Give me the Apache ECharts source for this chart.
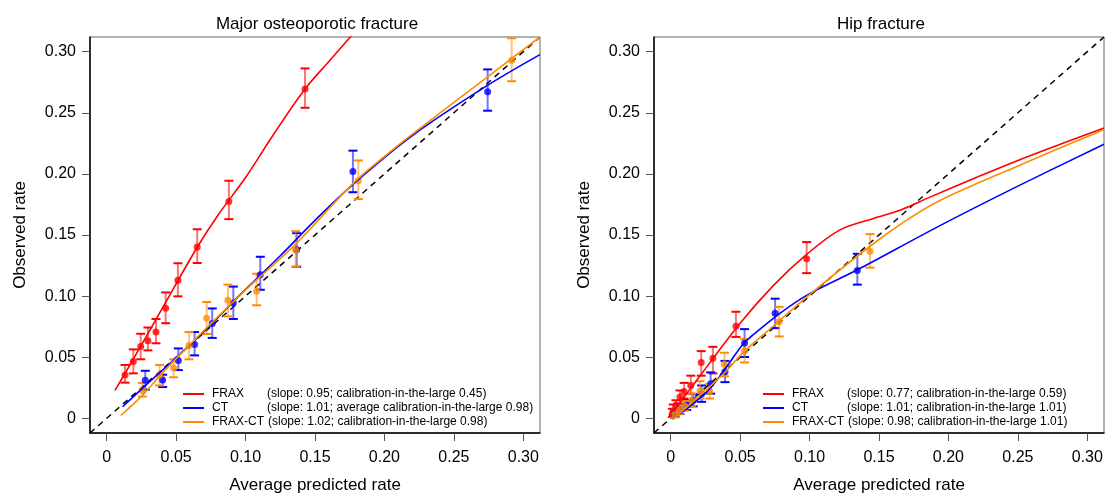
<!DOCTYPE html>
<html><head><meta charset="utf-8">
<script src="https://cdn.jsdelivr.net/npm/echarts@6/dist/echarts.min.js"></script>
<style>html,body{margin:0;padding:0;background:#fff}#c{width:1106px;height:499px}</style>
</head><body><div id="c"></div>
<script>
// ---------- data ----------
const tickValues = [0, 0.05, 0.10, 0.15, 0.20, 0.25, 0.30];
const titles = ['Major osteoporotic fracture', 'Hip fracture'];
const seriesNames = ['FRAX', 'CT', 'FRAX-CT'];
const legendText1 = ['(slope: 0.95; calibration-in-the-large 0.45)', '(slope: 1.01; average calibration-in-the-large 0.98)', '(slope: 1.02; calibration-in-the-large 0.98)'];
const legendText2 = ['(slope: 0.77; calibration-in-the-large 0.59)', '(slope: 1.01; calibration-in-the-large 1.01)', '(slope: 0.98; calibration-in-the-large 1.01)'];

// Major osteoporotic fracture – points
const mofFraxX  = [0.0132, 0.0192, 0.0245, 0.0297, 0.0355, 0.0425, 0.0513, 0.0652, 0.088, 0.1428];
const mofFraxY  = [0.0355, 0.0465, 0.0588, 0.0634, 0.0706, 0.0901, 0.1129, 0.1402, 0.1775, 0.2694];
const mofFraxLo = [0.0292, 0.0368, 0.0483, 0.0556, 0.0614, 0.0778, 0.0998, 0.1271, 0.163, 0.2541];
const mofFraxHi = [0.0437, 0.0564, 0.0692, 0.0743, 0.0813, 0.103, 0.1269, 0.1547, 0.1944, 0.2863];
const mofCtX  = [0.0278, 0.0403, 0.0516, 0.0633, 0.076, 0.0912, 0.1106, 0.1368, 0.1773, 0.2743];
const mofCtY  = [0.0312, 0.0314, 0.0473, 0.0604, 0.0775, 0.0944, 0.1175, 0.138, 0.2019, 0.2673];
const mofCtLo = [0.0234, 0.0256, 0.0395, 0.0515, 0.0658, 0.0813, 0.1052, 0.124, 0.185, 0.2517];
const mofCtHi = [0.0389, 0.0357, 0.0572, 0.0706, 0.0899, 0.1078, 0.1322, 0.1515, 0.219, 0.2855];
const mofFcX  = [0.0257, 0.0381, 0.0482, 0.0593, 0.072, 0.0873, 0.108, 0.1361, 0.1812, 0.2916];
const mofFcY  = [0.0228, 0.0355, 0.0411, 0.0596, 0.0818, 0.0966, 0.104, 0.1376, 0.1944, 0.293];
const mofFcLo = [0.0178, 0.0269, 0.0336, 0.0483, 0.069, 0.0834, 0.0925, 0.1241, 0.1794, 0.2758];
const mofFcHi = [0.029, 0.0437, 0.0483, 0.0706, 0.0952, 0.1094, 0.1183, 0.1531, 0.211, 0.311];
// Major osteoporotic fracture – smooth calibration curves
const mofFraxCurve = [[0.006,0.0228],[0.02,0.05],[0.04,0.09],[0.0652,0.140],[0.08,0.166],[0.10,0.197],[0.12,0.232],[0.1428,0.2694],[0.16,0.292],[0.18,0.318]];
const mofCtCurve = [[0.0115,0.0095],[0.03,0.029],[0.05,0.0495],[0.075,0.0765],[0.096,0.101],[0.125,0.133],[0.15,0.162],[0.1776,0.1917],[0.2208,0.2319],[0.2736,0.272],[0.312,0.2976]];
const mofFcCurve = [[0.0101,0.0023],[0.0257,0.0188],[0.04,0.037],[0.06,0.0604],[0.08,0.083],[0.10,0.105],[0.1368,0.1434],[0.1776,0.1925],[0.2016,0.2158],[0.2208,0.2332],[0.2736,0.2788],[0.312,0.312]];

// Hip fracture – points
const hipFraxX  = [0.0012, 0.0019, 0.0038, 0.0067, 0.0097, 0.0145, 0.022, 0.0304, 0.047, 0.0979];
const hipFraxY  = [0.0040, 0.0063, 0.0108, 0.0175, 0.022, 0.0269, 0.0457, 0.0491, 0.0754, 0.1306];
const hipFraxLo = [0.0012, 0.0027, 0.0063, 0.0121, 0.0162, 0.0202, 0.0349, 0.0368, 0.0666, 0.1188];
const hipFraxHi = [0.0078, 0.0113, 0.0148, 0.0228, 0.029, 0.0349, 0.055, 0.0585, 0.0872, 0.1442];
const hipCtX  = [0.0031, 0.0067, 0.0115, 0.0163, 0.0223, 0.0288, 0.0391, 0.0532, 0.0752, 0.1344];
const hipCtY  = [0.0041, 0.0068, 0.0108, 0.0148, 0.0202, 0.0282, 0.0381, 0.0617, 0.0859, 0.1209];
const hipCtLo = [0.0012, 0.0035, 0.0068, 0.0098, 0.0135, 0.0202, 0.0296, 0.0502, 0.0738, 0.1094];
const hipCtHi = [0.0075, 0.0105, 0.015, 0.0198, 0.0269, 0.0376, 0.047, 0.073, 0.0979, 0.1346];
const hipFcX  = [0.0031, 0.0062, 0.0103, 0.0151, 0.0211, 0.0281, 0.0387, 0.0532, 0.0781, 0.1435];
const hipFcY  = [0.0035, 0.0068, 0.01, 0.0148, 0.0224, 0.022, 0.0443, 0.055, 0.0791, 0.1368];
const hipFcLo = [0.0008, 0.0035, 0.0062, 0.0098, 0.0162, 0.0162, 0.0344, 0.0457, 0.067, 0.1233];
const hipFcHi = [0.007, 0.0105, 0.0142, 0.0202, 0.0304, 0.0282, 0.0537, 0.065, 0.0912, 0.1507];
// Hip fracture – smooth calibration curves
const hipFraxCurve = [[0.0019,0.0055],[0.02,0.033],[0.05,0.0778],[0.0739,0.1086],[0.0979,0.1341],[0.1219,0.1542],[0.1459,0.1635],[0.1651,0.1703],[0.1867,0.181],[0.22,0.197],[0.25,0.211],[0.28,0.224],[0.312,0.2375]];
const hipCtCurve = [[0.0014,-0.0007],[0.0259,0.0215],[0.0379,0.0384],[0.0523,0.061],[0.0595,0.0684],[0.0763,0.0839],[0.0979,0.1006],[0.1344,0.1215],[0.1939,0.1577],[0.25,0.19],[0.312,0.2243]];
const hipFcCurve = [[0.0014,-0.001],[0.0379,0.0363],[0.0532,0.055],[0.0763,0.0778],[0.0979,0.0992],[0.1435,0.1408],[0.1699,0.1622],[0.1939,0.1783],[0.25,0.2065],[0.312,0.2364]];

const diagonal = [[-0.012,-0.012],[0.312,0.312]];
const axisMin = -0.012, axisMax = 0.312;

// ---------- styling ----------
const FONT = '"Liberation Sans", Arial, Helvetica, sans-serif';
const COLORS = {FRAX: '#ff0000', CT: '#0000ff', 'FRAX-CT': '#ff8c00'};
const gridsPx = [{left: 90, top: 37, width: 450, height: 403}, {left: 654, top: 37, width: 450, height: 403}];
const fmt = v => (Math.abs(v) < 1e-9 ? '0' : v.toFixed(2));

function zip(xs, ys) { return xs.map((x, i) => [x, ys[i]]); }
function zip3(xs, lo, hi) { return xs.map((x, i) => [x, lo[i], hi[i]]); }

function errRender(color) {
  return function (params, api) {
    const x = api.value(0);
    const p1 = api.coord([x, api.value(1)]);
    const p2 = api.coord([x, api.value(2)]);
    const cw = 4.5;
    return {
      type: 'group',
      children: [
        {type: 'line', shape: {x1: p1[0], y1: p1[1], x2: p2[0], y2: p2[1]}, style: {stroke: color, lineWidth: 2, opacity: 0.55}},
        {type: 'line', shape: {x1: p1[0]-cw, y1: p1[1], x2: p1[0]+cw, y2: p1[1]}, style: {stroke: color, lineWidth: 2}},
        {type: 'line', shape: {x1: p2[0]-cw, y1: p2[1], x2: p2[0]+cw, y2: p2[1]}, style: {stroke: color, lineWidth: 2}}
      ]
    };
  };
}

const panels = [
  {pts: [[mofFraxX, mofFraxY, mofFraxLo, mofFraxHi], [mofCtX, mofCtY, mofCtLo, mofCtHi], [mofFcX, mofFcY, mofFcLo, mofFcHi]],
   curves: [mofFraxCurve, mofCtCurve, mofFcCurve], legend: legendText1},
  {pts: [[hipFraxX, hipFraxY, hipFraxLo, hipFraxHi], [hipCtX, hipCtY, hipCtLo, hipCtHi], [hipFcX, hipFcY, hipFcLo, hipFcHi]],
   curves: [hipFraxCurve, hipCtCurve, hipFcCurve], legend: legendText2}
];

const grid = [], xAxis = [], yAxis = [], series = [], title = [], legend = [];
panels.forEach((pn, gi) => {
  const g = gridsPx[gi];
  grid.push({left: g.left, top: g.top, width: g.width, height: g.height, show: true, borderColor: '#666', borderWidth: 1, containLabel: false});
  const axisCommon = {
    type: 'value', min: axisMin, max: axisMax, gridIndex: gi,
    splitLine: {show: false},
    axisLine: {show: true, onZero: false, lineStyle: {color: '#000', width: 1.5}},
    axisTick: {show: true, inside: false, length: 8, customValues: tickValues, lineStyle: {color: '#555', width: 1}},
    axisLabel: {customValues: tickValues, formatter: fmt, color: '#000', fontFamily: FONT, fontSize: 16},
    nameLocation: 'middle',
    nameTextStyle: {color: '#000', fontFamily: FONT, fontSize: 17}
  };
  xAxis.push(Object.assign({}, axisCommon, {name: 'Average predicted rate', nameGap: 44,
    axisLabel: Object.assign({}, axisCommon.axisLabel, {margin: 17})}));
  yAxis.push(Object.assign({}, axisCommon, {name: 'Observed rate', nameGap: 61,
    axisLabel: Object.assign({}, axisCommon.axisLabel, {margin: 14})}));
  title.push({text: titles[gi], left: g.left + g.width / 2 - 3, top: 11, textAlign: 'center',
    textStyle: {fontFamily: FONT, fontSize: 17, fontWeight: 'normal', color: '#000'}});

  // diagonal reference
  series.push({type: 'line', name: 'ref', xAxisIndex: gi, yAxisIndex: gi, data: diagonal, symbol: 'none', silent: true,
    lineStyle: {color: '#000', width: 1.5, type: [6, 5]}, z: 2});

  seriesNames.forEach((nm, si) => {
    const c = COLORS[nm];
    const [xs, ys, lo, hi] = pn.pts[si];
    series.push({type: 'custom', name: nm + ' CI', xAxisIndex: gi, yAxisIndex: gi, renderItem: errRender(c),
      data: zip3(xs, lo, hi), encode: {x: 0, y: [1, 2]}, z: 3, silent: true});
    series.push({type: 'scatter', name: nm + ' obs', xAxisIndex: gi, yAxisIndex: gi, data: zip(xs, ys),
      symbol: 'circle', symbolSize: 7, itemStyle: {color: c}, z: 4, silent: true});
  });
  seriesNames.forEach((nm, si) => {
    series.push({type: 'line', name: nm, xAxisIndex: gi, yAxisIndex: gi, data: pn.curves[si], smooth: 0.35,
      symbol: 'none', clip: true, lineStyle: {color: COLORS[nm], width: 1.6}, itemStyle: {color: COLORS[nm]}, z: 5, silent: true});
  });

  const lt = pn.legend;
  legend.push({
    data: seriesNames, orient: 'vertical', left: gi === 0 ? 183 : 763, top: 387, padding: 0,
    itemWidth: 21, itemHeight: 14, itemGap: 0, selectedMode: false, icon: 'path://M0,6 L21,6 L21,8 L0,8 Z',
    textStyle: {fontFamily: FONT, fontSize: 12, color: '#000', lineHeight: 14, padding: [0, 0, 0, 3],
      rich: {n: {fontFamily: FONT, fontSize: 12, width: 55, lineHeight: 14}, m: {fontFamily: FONT, fontSize: 12, width: 56, lineHeight: 14}, d: {fontFamily: FONT, fontSize: 12, lineHeight: 14}}},
    formatter: name => {
      const i = seriesNames.indexOf(name);
      const key = name === 'FRAX-CT' ? 'm' : 'n';
      return '{' + key + '|' + name + '}{d|' + lt[i] + '}';
    }
  });
});

const chart = echarts.init(document.getElementById('c'), null, {renderer: 'canvas'});
chart.setOption({animation: false, backgroundColor: '#fff', title, legend, grid, xAxis, yAxis, series});
</script></body></html>
